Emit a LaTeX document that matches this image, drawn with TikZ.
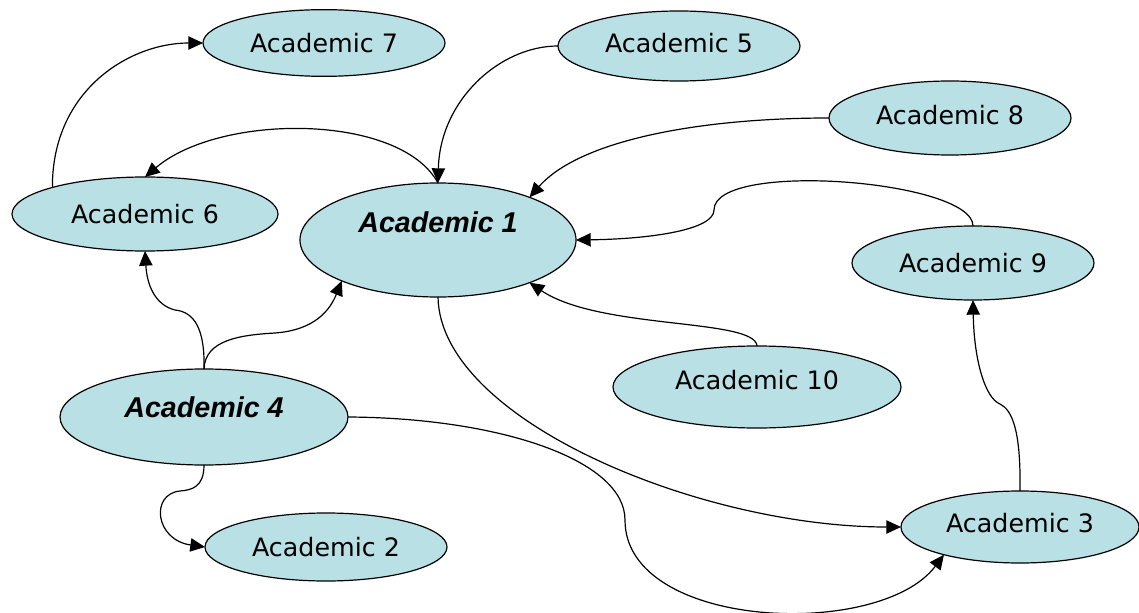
\documentclass[tikz,border=0pt]{standalone}
\usepackage{fontspec}
\setmainfont{DejaVu Sans}
\newfontfamily\leadfont{Liberation Sans}
\usepackage{tikz}
\usetikzlibrary{shapes.geometric, arrows.meta}
\definecolor{nodefill}{RGB}{185,224,228}
\newcommand{\lift}[2]{\raisebox{#1}[\height][\depth]{#2}}

\begin{document}
\begin{tikzpicture}[x=0.75pt, y=-0.75pt,
		vertex/.style 2 args={ellipse, draw, line width=0.9pt, fill=nodefill, inner sep=0pt, outer sep=0pt,
			minimum width=#1, minimum height=#2, font=\fontsize{19}{23}\selectfont},
		lead/.style={font=\leadfont\fontsize{21.5}{26}\selectfont\bfseries\itshape},
		>={Triangle[length=11pt,width=10pt]}, line width=0.9pt
		]
	\useasboundingbox (0,0) rectangle (1139,613);

		\node[vertex={181.5pt}{50pt}] (A7) at (324,43) {Academic 7};
		\node[vertex={181.5pt}{52.5pt}] (A5) at (679,46) {\lift{2pt}{Academic 5}};
		\node[vertex={181.5pt}{55.5pt}] (A8) at (950,118) {\lift{2pt}{Academic 8}};
		\node[vertex={199.5pt}{55.5pt}] (A6) at (145,214) {Academic 6};
		\node[vertex={207pt}{85.5pt}, lead] (A1) at (438,240) {\lift{13.5pt}{Academic 1}};
		\node[vertex={181.5pt}{55.5pt}] (A9) at (973,263) {Academic 9};
		\node[vertex={216pt}{61.5pt}] (A10) at (757,387) {\lift{5pt}{Academic 10}};
		\node[vertex={216pt}{72pt}, lead] (A4) at (204,417) {\lift{7.5pt}{Academic 4}};
		\node[vertex={178.5pt}{54pt}] (A3) at (1020,527) {\lift{3pt}{Academic 3}};
		\node[vertex={181.5pt}{51pt}] (A2) at (326,547) {Academic 2};

		\draw[->] (A6.164) .. controls (52,90) and (130,43) .. (A7.west);
		\draw[->] (A1.north) .. controls (400,113) and (220,113) .. (A6.north);
		\draw[->] (A5.west) .. controls (500,46) and (440,100) .. (A1.north);
		\draw[->] (A8.west) .. controls (700,118) and (580,140) .. (A1.25);
		\draw[->] (A9.north) .. controls (973,180) and (714,160) .. (714,210)
			.. controls (714,230) and (650,239) .. (A1.east);
		\draw[->] (A10.north) .. controls (755,318) and (600,330) .. (A1.-25);
		\draw[->] (A1.south) .. controls (440,420) and (700,527) .. (A3.west);
		\draw[->] (A4.east) .. controls (500,418) and (625,460) .. (625,520)
			.. controls (625,630) and (880,640) .. (A3.200);
		\draw[->] (A3.north) .. controls (1021,430) and (1012,410) .. (1000,404)
			.. controls (985,398) and (974,360) .. (A9.south);
		\draw[->] (A4.north) .. controls (205,330) and (195,312) .. (175,310)
			.. controls (155,305) and (147,285) .. (A6.south);
		\draw[->] (A4.north) .. controls (205,340) and (240,335) .. (275,333)
			.. controls (315,330) and (330,310) .. (A1.203);
		\draw[->] (A4.south) .. controls (204,487) and (192,490) .. (180,491)
			.. controls (150,494) and (155,540) .. (A2.west);

	\end{tikzpicture}
\end{document}
